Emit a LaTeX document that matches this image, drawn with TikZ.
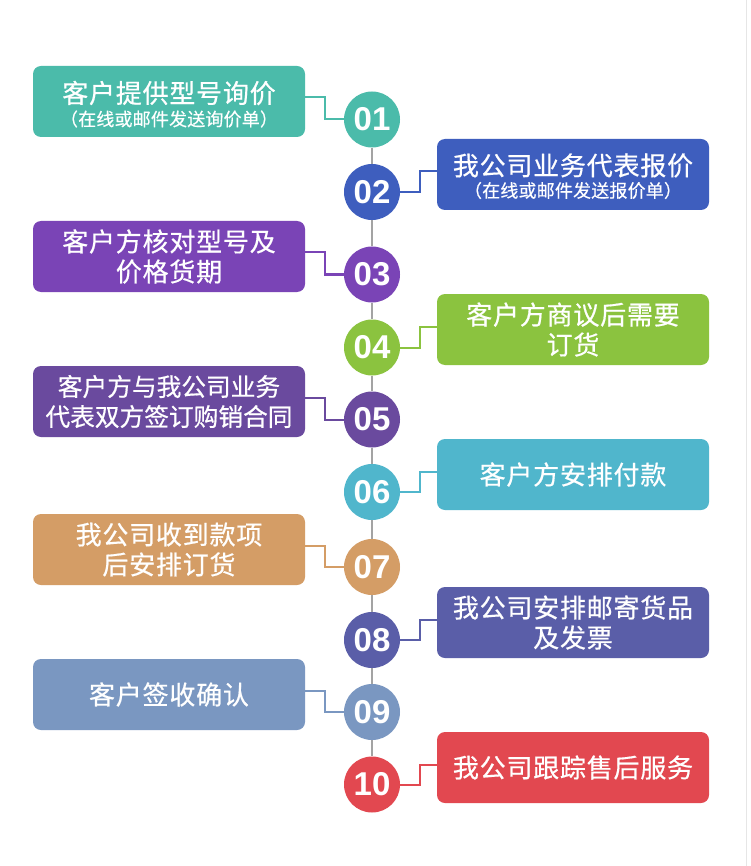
\documentclass[tikz,border=0pt]{standalone}
\usepackage{fontspec}
\newfontfamily\cjk{Noto Sans CJK SC}[LetterSpace=3,FakeBold=0.6]
\newfontfamily\cjknarrow{Noto Sans CJK SC}[FakeBold=0.6]
\newfontfamily\cjksub{Noto Sans CJK SC}[LetterSpace=1,FakeBold=0.4]
\newfontfamily\digitfont{Liberation Sans}
\definecolor{col1}{HTML}{4BBBAA}
\definecolor{col2}{HTML}{3E5EBE}
\definecolor{col3}{HTML}{7A44B6}
\definecolor{col4}{HTML}{8BC33F}
\definecolor{col5}{HTML}{6A4A9E}
\definecolor{col6}{HTML}{50B6CC}
\definecolor{col7}{HTML}{D49D66}
\definecolor{col8}{HTML}{5A5EA8}
\definecolor{col9}{HTML}{7A97C1}
\definecolor{col10}{HTML}{E24850}
\definecolor{spine}{HTML}{A3A3A3}
\definecolor{edgegray}{HTML}{E6E6E6}
\begin{document}
\begin{tikzpicture}[x=1pt,y=-1pt,
  stepbox/.style={draw=none, fill=#1, rounded corners=8pt, minimum width=272pt,
    minimum height=71pt, inner sep=0pt, text=white, align=center,
    font=\cjk\fontsize{26}{30}\selectfont},
  numcirc/.style={circle, fill=#1, minimum size=56pt, inner sep=0pt, text=white,
    font=\digitfont\bfseries\fontsize{33}{33}\selectfont},
  conn/.style={draw=#1, line width=2pt},
  spineline/.style={draw=spine, line width=2pt},
  maintext/.style={text=white, inner sep=0pt, font=\cjk\fontsize{26}{30}\selectfont},
  subtext/.style={text=white, inner sep=0pt, font=\cjksub\fontsize{18}{20}\selectfont}
]
\useasboundingbox (0,0) rectangle (750,866);
\fill[white] (0,0) rectangle (750,866);
\draw[edgegray, line width=1.5pt] (746.5,0) -- (746.5,866);

% boxes
\node[stepbox=col1] (b1) at (169,101.5) {};
\node[maintext] (t1) at ([yshift=8.5pt]b1.center) {客户提供型号询价};
\node[subtext] (s1) at ([yshift=-17.5pt]b1.center) {（在线或邮件发送询价单）};
\node[stepbox=col2] (b2) at (573,174.5) {};
\node[maintext] (t2) at ([yshift=9pt]b2.center) {我公司业务代表报价};
\node[subtext] (s2) at ([yshift=-16pt]b2.center) {（在线或邮件发送报价单）};
\node[stepbox=col3] (b3) at (169,256.5) {客户方核对型号及\\价格货期};
\node[stepbox=col4] (b4) at (573,329.5) {客户方商议后需要\\订货};
\node[stepbox=col5, font=\cjknarrow\fontsize{24.7}{30}\selectfont] (b5) at (169,401.5) {客户方与我公司业务\\代表双方签订购销合同};
\node[stepbox=col6] (b6) at (573,474.5) {客户方安排付款};
\node[stepbox=col7] (b7) at (169,549.5) {我公司收到款项\\后安排订货};
\node[stepbox=col8] (b8) at (573,622.5) {我公司安排邮寄货品\\及发票};
\node[stepbox=col9] (b9) at (169,694.5) {客户签收确认};
\node[stepbox=col10] (b10) at (573,767.5) {我公司跟踪售后服务};

% circles
\node[numcirc=col1] (c1) at (372,119.5) {01};
\node[numcirc=col2] (c2) at (372,192) {02};
\node[numcirc=col3] (c3) at (372,274.5) {03};
\node[numcirc=col4] (c4) at (372,347.5) {04};
\node[numcirc=col5] (c5) at (372,419.5) {05};
\node[numcirc=col6] (c6) at (372,492) {06};
\node[numcirc=col7] (c7) at (372,567) {07};
\node[numcirc=col8] (c8) at (372,640) {08};
\node[numcirc=col9] (c9) at (372,712) {09};
\node[numcirc=col10] (c10) at (372,784.5) {10};

% spine
\foreach \a/\b in {c1/c2,c2/c3,c3/c4,c4/c5,c5/c6,c6/c7,c7/c8,c8/c9,c9/c10}
  \draw[spineline] (\a.south) -- (\b.north);

% connectors (left boxes)
\foreach \i in {1,3,5,7,9}
  \draw[conn=col\i] ([yshift=4pt]b\i.east) -- ++(20,0) |- (c\i.west);
% connectors (right boxes)
\foreach \i in {2,4,6,8,10}
  \draw[conn=col\i] (c\i.east) -- ++(20,0) |- ([yshift=3pt]b\i.west);
\end{tikzpicture}
\end{document}
